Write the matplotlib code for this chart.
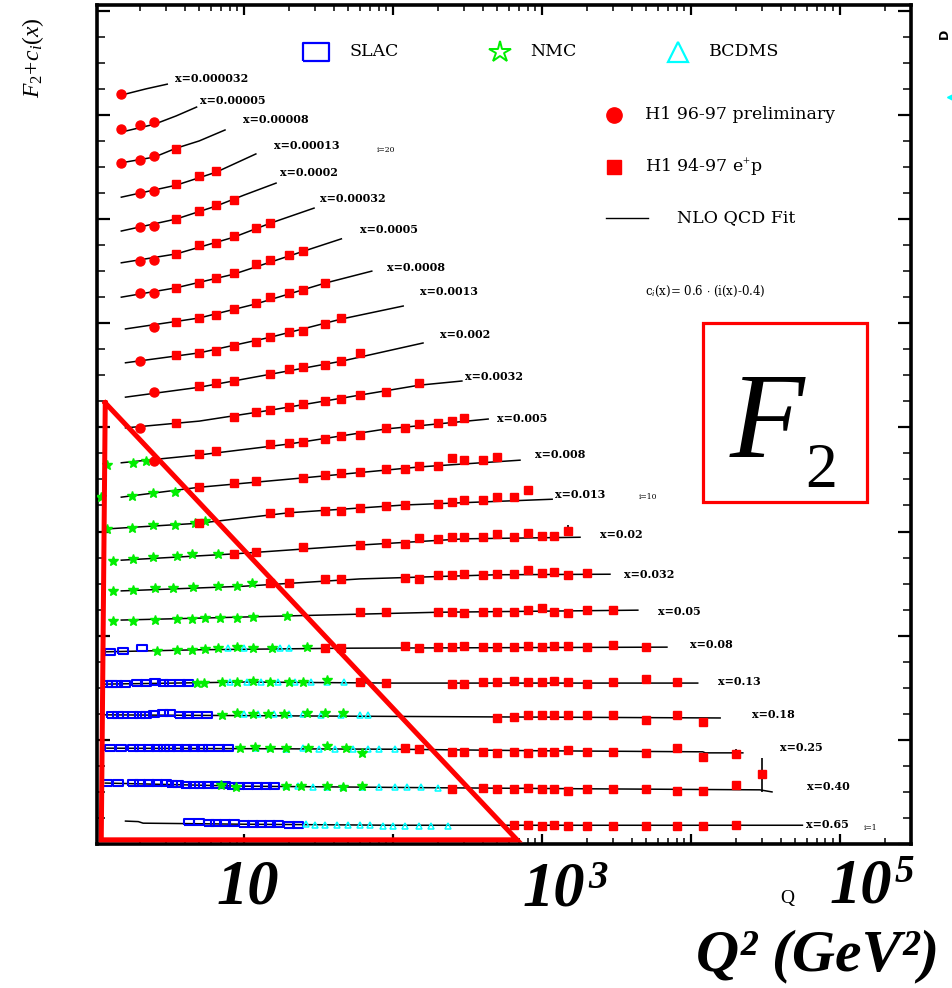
import numpy as np
import matplotlib
matplotlib.use("Agg")
import matplotlib.pyplot as plt
from matplotlib.lines import Line2D
from matplotlib.patches import Rectangle
from matplotlib.ticker import MultipleLocator, LogLocator, NullFormatter

plt.rcParams["mathtext.fontset"] = "custom"
plt.rcParams["mathtext.rm"] = "Liberation Serif"
plt.rcParams["mathtext.it"] = "Liberation Serif:italic"
plt.rcParams["mathtext.bf"] = "Liberation Serif:bold"

# ---- data: F2 + c_i(x) versus Q^2, one entry per x bin (top to bottom) ----
X_BINS = ["0.000032", "0.00005", "0.00008", "0.00013", "0.0002", "0.00032",
          "0.0005", "0.0008", "0.0013", "0.002", "0.0032", "0.005", "0.008",
          "0.013", "0.02", "0.032", "0.05", "0.08", "0.13", "0.18", "0.25",
          "0.40", "0.65"]

# NLO QCD fit, read at a few Q^2 knots per bin
FIT_Q2 = [
    [1.5, 2.2, 3.05],
    [1.5, 2.5, 3.5, 4.8],
    [1.5, 2.5, 3.5, 5, 7.45],
    [1.5, 3.5, 6.5, 12],
    [1.5, 3.5, 6.5, 10, 16.4],
    [1.5, 3.5, 8.5, 15, 29.5],
    [1.5, 3.5, 8.5, 20, 45],
    [1.6, 5, 12, 35, 72],
    [1.6, 5, 15, 45, 117],
    [1.6, 5, 15, 45, 159],
    [1.6, 5, 15, 60, 150, 290],
    [1.5, 5, 20, 90, 435],
    [1.5, 5, 25, 150, 712],
    [1.2, 5, 20, 120, 1170],
    [1.5, 8.5, 60, 300, 1800],
    [1.5, 10, 60, 500, 2860],
    [1.5, 20, 200, 4400],
    [1.17, 5, 50, 6900],
    [1.17, 10, 100, 11100],
    [1.17, 20, 500, 15700],
    [1.2, 100, 1000, 12000, 12500, 22300],
    [1.17, 10, 200, 2000, 29000, 35000],
    [1.6, 1.95, 2.1, 10, 100, 56000],
]
FIT_Y = [
    [14.38, 14.50, 14.59],
    [13.67, 13.82, 13.98, 14.15],
    [13.08, 13.19, 13.36, 13.50, 13.71],
    [12.42, 12.65, 12.90, 13.25],
    [11.77, 12.00, 12.25, 12.46, 12.69],
    [11.16, 11.33, 11.65, 11.92, 12.21],
    [10.50, 10.68, 10.94, 11.29, 11.62],
    [9.89, 10.10, 10.37, 10.77, 11.00],
    [9.24, 9.43, 9.73, 10.08, 10.33],
    [8.58, 8.77, 9.02, 9.27, 9.62],
    [7.99, 8.12, 8.33, 8.62, 8.81, 8.89],
    [7.32, 7.47, 7.68, 7.97, 8.16],
    [6.66, 6.85, 7.03, 7.24, 7.37],
    [6.05, 6.16, 6.36, 6.51, 6.62],
    [5.45, 5.57, 5.74, 5.86, 5.89],
    [4.86, 4.95, 5.09, 5.17, 5.18],
    [4.30, 4.38, 4.45, 4.49],
    [3.69, 3.73, 3.76, 3.78],
    [3.07, 3.11, 3.09, 3.09],
    [2.48, 2.46, 2.44, 2.42],
    [1.84, 1.82, 1.79, 1.77, 1.75, 1.75],
    [1.17, 1.11, 1.08, 1.06, 1.04, 1.00],
    [0.44, 0.43, 0.40, 0.38, 0.36, 0.36],
]

# H1 data points
H1_Q2 = [
    [1.5],
    [1.5, 2, 2.5],
    [1.5, 2, 2.5, 3.5],
    [2, 2.5, 3.5, 5, 6.5],
    [2, 2.5, 3.5, 5, 6.5, 8.5],
    [2, 2.5, 3.5, 5, 6.5, 8.5, 12, 15],
    [2, 2.5, 3.5, 5, 6.5, 8.5, 12, 15, 20, 25],
    [2.5, 3.5, 5, 6.5, 8.5, 12, 15, 20, 25, 35],
    [2, 3.5, 5, 6.5, 8.5, 12, 15, 20, 25, 35, 45],
    [2.5, 5, 6.5, 8.5, 15, 20, 25, 35, 45, 60],
    [2, 3.5, 8.5, 12, 15, 20, 25, 35, 45, 60, 90, 150],
    [2.5, 5, 6.5, 15, 20, 25, 35, 45, 60, 90, 120, 150, 200, 250, 300],
    [5, 8.5, 12, 25, 35, 45, 60, 90, 120, 150, 200, 250, 300, 400, 500],
    [5, 15, 20, 35, 45, 60, 90, 120, 200, 250, 300, 400, 500, 650, 800],
    [8.5, 12, 25, 60, 90, 120, 150, 200, 250, 300, 400, 500, 650, 800, 1000, 1200, 1500],
    [15, 20, 35, 45, 120, 150, 200, 250, 300, 400, 500, 650, 800, 1000, 1200, 1500, 2000],
    [60, 90, 200, 250, 300, 400, 500, 650, 800, 1000, 1200, 1500, 2000, 3000],
    [35, 45, 120, 150, 200, 250, 300, 400, 500, 650, 800, 1000, 1200, 1500, 2000, 3000, 5000],
    [60, 90, 250, 300, 400, 500, 650, 800, 1000, 1200, 1500, 2000, 3000, 5000, 8000],
    [500, 650, 800, 1000, 1200, 1500, 2000, 3000, 5000, 8000, 12000],
    [120, 150, 250, 300, 400, 500, 650, 800, 1000, 1200, 1500, 2000, 3000, 5000, 8000, 12000, 20000],
    [250, 400, 500, 650, 800, 1000, 1200, 1500, 2000, 3000, 5000, 8000, 12000, 20000, 30000],
    [650, 800, 1000, 1200, 1500, 2000, 3000, 5000, 8000, 12000, 20000],
]
H1_Y = [
    [14.40],
    [13.73, 13.80, 13.86],
    [13.08, 13.13, 13.21, 13.34],
    [12.50, 12.54, 12.67, 12.83, 12.92],
    [11.85, 11.87, 12.00, 12.15, 12.27, 12.37],
    [11.19, 11.21, 11.33, 11.50, 11.54, 11.67, 11.83, 11.92],
    [10.58, 10.58, 10.68, 10.77, 10.87, 10.96, 11.14, 11.21, 11.31, 11.39],
    [9.93, 10.02, 10.10, 10.16, 10.27, 10.39, 10.50, 10.58, 10.64, 10.77],
    [9.27, 9.39, 9.43, 9.47, 9.56, 9.64, 9.73, 9.83, 9.85, 9.98, 10.10],
    [8.68, 8.79, 8.85, 8.89, 9.02, 9.12, 9.16, 9.20, 9.27, 9.43],
    [7.99, 8.08, 8.20, 8.29, 8.33, 8.39, 8.45, 8.51, 8.54, 8.62, 8.68, 8.85],
    [7.35, 7.49, 7.55, 7.68, 7.70, 7.72, 7.78, 7.83, 7.85, 7.99, 7.99, 8.06, 8.08, 8.12, 8.18],
    [6.85, 6.93, 6.97, 7.03, 7.09, 7.12, 7.14, 7.20, 7.20, 7.26, 7.26, 7.41, 7.37, 7.37, 7.43],
    [6.16, 6.36, 6.37, 6.39, 6.39, 6.45, 6.49, 6.51, 6.53, 6.57, 6.60, 6.60, 6.66, 6.66, 6.80],
    [5.57, 5.61, 5.70, 5.74, 5.78, 5.76, 5.88, 5.86, 5.89, 5.89, 5.89, 5.95, 5.89, 5.97, 5.91, 5.91, 6.01],
    [5.01, 5.01, 5.09, 5.09, 5.11, 5.09, 5.17, 5.17, 5.18, 5.17, 5.18, 5.18, 5.26, 5.20, 5.22, 5.17, 5.20],
    [4.45, 4.45, 4.45, 4.45, 4.44, 4.45, 4.45, 4.45, 4.49, 4.53, 4.46, 4.44, 4.49, 4.49],
    [3.76, 3.76, 3.80, 3.76, 3.78, 3.78, 3.80, 3.78, 3.78, 3.78, 3.80, 3.78, 3.80, 3.80, 3.78, 3.82, 3.78],
    [3.11, 3.09, 3.07, 3.07, 3.11, 3.11, 3.13, 3.11, 3.11, 3.13, 3.11, 3.07, 3.11, 3.17, 3.11],
    [2.42, 2.44, 2.48, 2.48, 2.48, 2.48, 2.48, 2.48, 2.38, 2.48, 2.34],
    [1.84, 1.82, 1.77, 1.77, 1.77, 1.75, 1.77, 1.75, 1.77, 1.77, 1.80, 1.77, 1.77, 1.75, 1.84, 1.67, 1.73],
    [1.06, 1.08, 1.06, 1.06, 1.08, 1.06, 1.06, 1.02, 1.06, 1.06, 1.06, 1.02, 1.02, 1.13, 1.34],
    [0.36, 0.36, 0.35, 0.36, 0.35, 0.35, 0.35, 0.35, 0.35, 0.35, 0.36],
]

# H1 points with visible error bars
ERR_Q2 = [1500, 20000, 30000]
ERR_Y = [6.01, 1.73, 1.34]
ERR_LO = [0.10, 0.10, 0.34]
ERR_HI = [0.12, 0.10, 0.31]

# fixed target data, keyed by bin index
NMC = {
    11: ([1.2, 1.8, 2.2], [7.28, 7.32, 7.35]),
    12: ([1.1, 1.77, 2.45, 3.44], [6.66, 6.68, 6.74, 6.76]),
    13: ([1.2, 1.77, 2.45, 3.44, 4.7, 5.5], [6.05, 6.07, 6.12, 6.12, 6.16, 6.20]),
    14: ([1.32, 1.8, 2.45, 3.55, 4.48, 6.7], [5.43, 5.47, 5.51, 5.53, 5.57, 5.57]),
    15: ([1.32, 1.8, 2.53, 3.34, 4.55, 6.7, 9, 11.3],
         [4.86, 4.88, 4.92, 4.92, 4.93, 4.95, 4.95, 5.01]),
    16: ([1.32, 1.8, 2.53, 3.55, 4.5, 5.5, 6.9, 9, 11.5, 19.5],
         [4.28, 4.28, 4.30, 4.32, 4.32, 4.34, 4.34, 4.34, 4.36, 4.38]),
    17: ([2.6, 3.55, 4.5, 5.5, 6.7, 9, 11.5, 15.4, 26.5],
         [3.71, 3.73, 3.73, 3.74, 3.76, 3.78, 3.76, 3.76, 3.78]),
    18: ([4.8, 5.4, 7.1, 9, 11.5, 15, 20, 25, 36],
         [3.09, 3.09, 3.11, 3.11, 3.13, 3.11, 3.11, 3.11, 3.15]),
    19: ([7.1, 9, 11.5, 14.5, 18.5, 26.5, 35, 46],
         [2.48, 2.52, 2.50, 2.50, 2.50, 2.52, 2.52, 2.52]),
    20: ([9.4, 11.8, 15, 19, 26.9, 36, 48, 62],
         [1.84, 1.86, 1.84, 1.84, 1.84, 1.88, 1.84, 1.75]),
    21: ([7, 8.8, 19, 24, 36, 46, 62], [1.13, 1.09, 1.11, 1.11, 1.11, 1.09, 1.11]),
}
SLAC = {
    17: ([1.26, 1.54, 2.07], [3.69, 3.71, 3.76]),
    18: ([1.2, 1.3, 1.4, 1.6, 1.91, 2.2, 2.53, 2.86, 3.18, 3.72, 4.2],
         [3.07, 3.07, 3.07, 3.07, 3.09, 3.09, 3.11, 3.09, 3.09, 3.09, 3.09]),
    19: ([1.3, 1.42, 1.55, 1.8, 2.0, 2.2, 2.5, 2.86, 3.2, 3.7, 4.2, 4.8, 5.65],
         [2.48, 2.48, 2.48, 2.48, 2.48, 2.48, 2.50, 2.52, 2.52, 2.48, 2.48, 2.48, 2.48]),
    20: ([1.26, 1.5, 1.8, 2.0, 2.3, 2.6, 2.9, 3.2, 3.6, 4.1, 4.6, 5.2, 5.8, 6.8, 7.8],
         [1.84] * 15),
    21: ([1.2, 1.43, 1.8, 2.0, 2.3, 2.6, 3.0, 3.3, 3.6, 4.1, 4.6, 5.1, 5.7, 6.5, 7.4,
          8.3, 9.2, 10.6, 12.2, 14, 16],
         [1.17, 1.17, 1.17, 1.17, 1.17, 1.17, 1.17, 1.16, 1.15, 1.14, 1.13, 1.13, 1.13,
          1.13, 1.13, 1.12, 1.11, 1.11, 1.11, 1.11, 1.11]),
    22: ([4.3, 5, 5.8, 6.5, 7.5, 8.6, 10, 11.5, 13, 15, 17, 20, 23],
         [0.42, 0.42, 0.40, 0.40, 0.40, 0.40, 0.38, 0.38, 0.38, 0.38, 0.38, 0.36, 0.36]),
}
BCDMS = {
    17: ([7.8, 10, 17.5, 20], [3.76, 3.76, 3.76, 3.76]),
    18: ([8, 10.5, 13, 17, 22, 28, 36, 47, 62], [3.11] * 9),
    19: ([10, 12.5, 16, 20, 25, 33, 45, 60, 68],
         [2.50, 2.50, 2.50, 2.50, 2.50, 2.48, 2.48, 2.48, 2.48]),
    20: ([12, 15, 19, 25, 32, 41, 54, 68, 80, 103],
         [1.84, 1.84, 1.82, 1.84, 1.82, 1.82, 1.82, 1.82, 1.82, 1.82]),
    21: ([19, 23, 29, 36, 46, 62, 80, 103, 125, 155, 200],
         [1.11, 1.11, 1.09, 1.09, 1.09, 1.09, 1.09, 1.09, 1.09, 1.09, 1.08]),
    22: ([26, 30, 35, 42, 50, 60, 70, 85, 100, 120, 150, 180, 234],
         [0.38, 0.36, 0.36, 0.36, 0.36, 0.36, 0.36, 0.35, 0.35, 0.35, 0.35, 0.35, 0.35]),
}

# kinematic region marked by hand on the original (Q^2, F2+c)
REGION_Q2 = [1.17, 1.10, 680, 1.17]
REGION_Y = [8.47, 0.08, 0.08, 8.47]

# ---- layout ----
W, H = 953, 988
# label offset from the end of each fit line, in pixels (dx right, dy down)
LABEL_OFFSET_PX = [(8, -6), (3, -7), (18, -10), (18, -8), (4, -11), (6, -10),
                   (19, -9), (15, -4), (17, -15), (17, -8), (3, -5), (9, -1),
                   (15, -6), (3, -5), (20, -3), (14, 0), (20, 1), (23, -3),
                   (20, -2), (32, -3), (37, -5), (35, -5), (4, -1)]

RED = "#ff0000"
GREEN = "#00ee00"
BLUE = "#0000ff"
CYAN = "#00ffff"
RECT = [(-1.5, -1), (1.5, -1), (1.5, 1), (-1.5, 1), (-1.5, -1)]


def fxy(px, py):
    """pixel position of the reference picture -> figure fraction"""
    return px / W, 1 - py / H


fig = plt.figure(figsize=(W / 100, H / 100), dpi=100)
ax = fig.add_axes([97 / W, 1 - 844 / H, 814 / W, 839 / H])
ax.set_xscale("log")
ax.set_xlim(1.03, 3.0e5)
ax.set_ylim(0, 16.11)

# fit curves
for q, y in zip(FIT_Q2, FIT_Y):
    ax.plot(q, y, color="black", lw=1.1, zorder=2)

# fixed target points
for i, (q, y) in SLAC.items():
    ax.plot(q, y, ls="none", marker=RECT, ms=7, mfc="none", mec=BLUE, mew=1.5, zorder=3)
for i, (q, y) in BCDMS.items():
    ax.plot(q, y, ls="none", marker="^", ms=4.5, mfc="none", mec=CYAN, mew=1.1, zorder=4)
for i, (q, y) in NMC.items():
    ax.plot(q, y, ls="none", marker="*", ms=7, color=GREEN, mec=GREEN, zorder=4)

# H1 points: low Q2 from the 96-97 preliminary sample as circles
for q, y in zip(H1_Q2, H1_Y):
    q = np.array(q)
    y = np.array(y)
    low = q < 3
    ax.plot(q[low], y[low], ls="none", marker="o", ms=6.5, color=RED, zorder=5)
    ax.plot(q[~low], y[~low], ls="none", marker="s", ms=6, color=RED, zorder=5)
ax.errorbar(ERR_Q2, ERR_Y, yerr=[ERR_LO, ERR_HI], fmt="none", ecolor="black",
            elinewidth=1.2, zorder=4)

# x bin labels
for i, lab in enumerate(X_BINS):
    dx, dy = LABEL_OFFSET_PX[i]
    ax.annotate("x=" + lab, xy=(FIT_Q2[i][-1], FIT_Y[i][-1]),
                xytext=(dx * 0.72, -dy * 0.72), textcoords="offset points",
                ha="left", va="center", fontsize=8, weight="bold",
                family="DejaVu Serif")

# axes frame and ticks
for sp in ax.spines.values():
    sp.set_linewidth(2.6)
ax.xaxis.set_major_locator(LogLocator(base=10, numticks=12))
ax.xaxis.set_minor_locator(LogLocator(base=10, subs=np.arange(2, 10), numticks=40))
ax.xaxis.set_minor_formatter(NullFormatter())
ax.yaxis.set_major_locator(MultipleLocator(2))
ax.yaxis.set_minor_locator(MultipleLocator(0.5))
ax.tick_params(which="both", direction="in", top=True, right=True,
               labelbottom=False, labelleft=False)
ax.tick_params(axis="y", which="major", length=9.5, width=1.6)
ax.tick_params(axis="y", which="minor", length=5.5, width=1.1)
ax.tick_params(axis="x", which="major", length=7.5, width=1.6)
ax.tick_params(axis="x", which="minor", length=4, width=1.1)

# hand drawn region
ax.plot(REGION_Q2, REGION_Y, color=RED, lw=3.6, clip_on=False, zorder=10,
        solid_joinstyle="miter")

# legend, drawn by hand in axes fraction
leg = dict(transform=ax.transAxes, clip_on=False, ls="none", zorder=6)
tkw = dict(transform=ax.transAxes, va="center", ha="left", fontsize=12.5,
           family="DejaVu Serif")
ax.plot([0.269], [0.944], marker=RECT, ms=19, mfc="none", mec=BLUE, mew=1.6, **leg)
ax.text(0.310, 0.944, "SLAC", **tkw)
ax.plot([0.495], [0.944], marker="*", ms=16, mfc="none", mec=GREEN, mew=1.4, **leg)
ax.text(0.532, 0.944, "NMC", **tkw)
ax.plot([0.714], [0.944], marker="^", ms=14, mfc="none", mec=CYAN, mew=1.6, **leg)
ax.text(0.752, 0.944, "BCDMS", **tkw)
ax.plot([0.635], [0.869], marker="o", ms=11, color=RED, **leg)
ax.text(0.673, 0.869, "H1 96-97 preliminary", **tkw)
ax.plot([0.635], [0.807], marker="s", ms=10, color=RED, **leg)
ax.text(0.673, 0.807, "H1 94-97 e$^{+}$p", **tkw)
ax.plot([0.625, 0.677], [0.746, 0.746], color="black", lw=1.0,
        transform=ax.transAxes, clip_on=False)
ax.text(0.713, 0.746, "NLO QCD Fit", **tkw)
ax.text(0.673, 0.658, r"c$_i$(x)= 0.6 $\cdot$ (i(x)-0.4)", transform=ax.transAxes,
        va="center", ha="left", fontsize=8.5, family="DejaVu Serif")

# F2 box
ax.add_patch(Rectangle((0.7445, 0.4076), 0.2015, 0.2134, transform=ax.transAxes,
                       fill=False, ec=RED, lw=2.3, clip_on=False, zorder=7))
fig.text(*fxy(767, 457), "F", fontsize=88, style="italic", family="Liberation Serif",
         ha="center", va="baseline")
fig.text(*fxy(821, 487), "2", fontsize=46, family="Liberation Serif",
         ha="center", va="baseline")

# small bin index notes
for txt, px, py in [("i=20", 386, 150), ("i=10", 648, 497), ("i=1", 871, 828)]:
    fig.text(*fxy(px, py), txt, fontsize=5.5, family="DejaVu Serif",
             ha="center", va="center")

# big tick labels and axis titles
big = dict(family="Liberation Serif", style="italic", weight="bold", ha="center",
           va="baseline")
fig.text(*fxy(248, 903), "10", fontsize=45, **big)
fig.text(*fxy(554, 905), "10", fontsize=45, **big)
fig.text(*fxy(598, 888), "3", fontsize=28, **big)
fig.text(*fxy(861, 902), "10", fontsize=45, **big)
fig.text(*fxy(904, 882), "5", fontsize=28, **big)
fig.text(*fxy(818, 970), "Q\u00b2 (GeV\u00b2)", fontsize=43, **big)
fig.text(*fxy(787, 903), "Q", fontsize=14, family="Liberation Serif",
         ha="center", va="baseline")
fig.text(*fxy(33, 58), r"$F_2\!+\!c_i(x)$", fontsize=17, rotation=90,
         ha="center", va="center")

# edge of the neighbouring panel
fig.text(*fxy(944, 34), "D", fontsize=9, weight="bold", rotation=90,
         ha="center", va="center")
fig.add_artist(Line2D([958 / W], [1 - 97 / H], marker="<", ms=16, color=CYAN,
                      transform=fig.transFigure))

fig.savefig("out.png", dpi=100)
